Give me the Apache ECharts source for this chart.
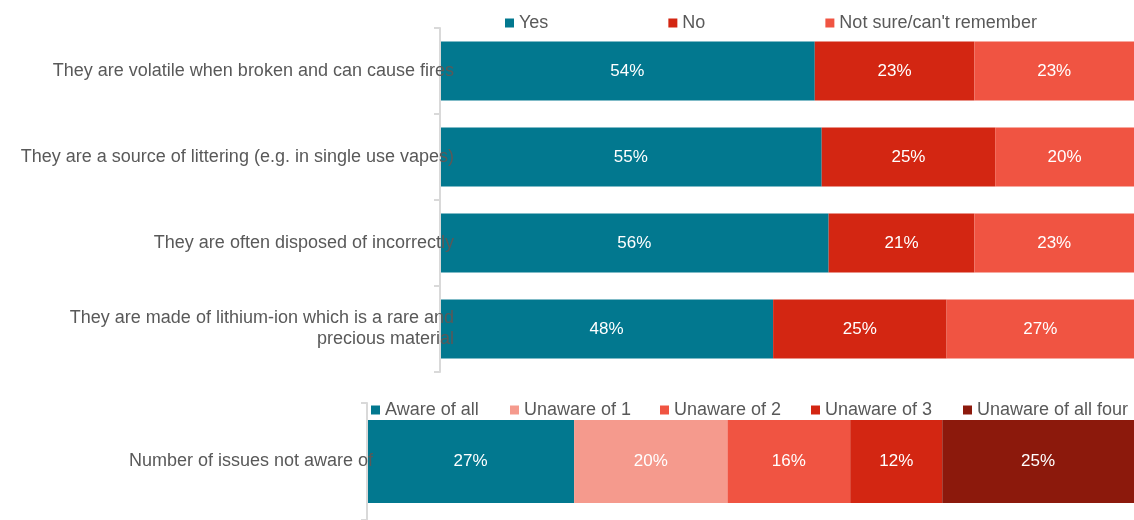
<!DOCTYPE html>
<html><head><meta charset="utf-8">
<script src="https://cdn.jsdelivr.net/npm/echarts@6/dist/echarts.min.js"></script>
<style>html,body{margin:0;padding:0;background:#fff}#c{width:1134px;height:520px}</style>
</head><body><div id="c"></div>
<script>
const topCategories = [
  "They are volatile when broken and can cause fires",
  "They are a source of littering (e.g. in single use vapes)",
  "They are often disposed of incorrectly",
  "They are made of lithium-ion which is a rare and\nprecious material"
];
const topSeriesNames = ["Yes", "No", "Not sure/can't remember"];
const yesValues = [54, 55, 56, 48];
const noValues = [23, 25, 21, 25];
const notSureValues = [23, 20, 23, 27];

const bottomCategories = ["Number of issues not aware of"];
const bottomSeriesNames = ["Aware of all", "Unaware of 1", "Unaware of 2", "Unaware of 3", "Unaware of all four"];
const awareAll = [27];
const unaware1 = [20];
const unaware2 = [16];
const unaware3 = [12];
const unawareAllFour = [25];

const topColors = ["#02788f", "#d32612", "#f05442"];
const bottomColors = ["#02788f", "#f59a8d", "#f05442", "#d32612", "#8c190c"];
const textColor = "#595959";
const fontFamily = "Liberation Sans, Arial, sans-serif";

const chart = echarts.init(document.getElementById('c'));

const labelStyle = {show: true, position: 'inside', color: '#fff', fontSize: 17, fontFamily, formatter: p => p.value + '%'};

const topData = [yesValues, noValues, notSureValues];
const bottomData = [awareAll, unaware1, unaware2, unaware3, unawareAllFour];

const series = [];
topSeriesNames.forEach((n, i) => series.push({
  name: n, type: 'bar', stack: 'top', xAxisIndex: 0, yAxisIndex: 0,
  data: topData[i], barWidth: 59, itemStyle: {color: topColors[i]}, label: labelStyle
}));
bottomSeriesNames.forEach((n, i) => series.push({
  name: n, type: 'bar', stack: 'bottom', xAxisIndex: 1, yAxisIndex: 1,
  data: bottomData[i], barWidth: 83, itemStyle: {color: bottomColors[i]}, label: labelStyle
}));

const legendTextStyle = {color: textColor, fontSize: 18, fontFamily};
const bottomLegendLeft = [371, 510, 660, 811, 963];
const legends = [{
  data: topSeriesNames, left: 505, top: 14, itemWidth: 9, itemHeight: 9, itemGap: 120,
  icon: 'rect', textStyle: legendTextStyle, padding: 0
}];
bottomSeriesNames.forEach((n, i) => legends.push({
  data: [n], left: bottomLegendLeft[i], top: 401, itemWidth: 9, itemHeight: 9,
  icon: 'rect', textStyle: legendTextStyle, padding: 0
}));

const axisLine = {show: true, lineStyle: {color: '#d9d9d9', width: 2}};
chart.setOption({
  animation: false,
  legend: legends,
  grid: [
    {left: 440, right: 0, top: 28, height: 344},
    {left: 367, right: 0, top: 403, height: 119}
  ],
  xAxis: [
    {gridIndex: 0, type: 'value', min: 0, max: 100, show: false},
    {gridIndex: 1, type: 'value', min: 0, max: 100, show: false}
  ],
  yAxis: [
    {gridIndex: 0, type: 'category', data: topCategories, inverse: true, z: 5,
     axisLine, axisTick: {show: true, length: 6, lineStyle: {color: '#d9d9d9', width: 2}},
     axisLabel: {color: textColor, fontSize: 18, fontFamily, margin: -14, align: 'right', lineHeight: 21}},
    {gridIndex: 1, type: 'category', data: bottomCategories, inverse: true, z: 5,
     axisLine, axisTick: {show: true, length: 6, lineStyle: {color: '#d9d9d9', width: 2}},
     axisLabel: {color: textColor, fontSize: 18, fontFamily, margin: -6, align: 'right'}}
  ],
  series
});
</script></body></html>
